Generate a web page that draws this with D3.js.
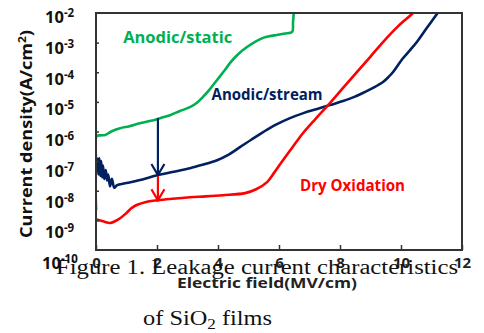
<!DOCTYPE html>
<html>
<head>
<meta charset="utf-8">
<script src="https://cdn.jsdelivr.net/npm/d3@7"></script>
<style>
  body { margin: 0; background: #fff; }
  svg { display: block; }
</style>
</head>
<body>
<svg width="484" height="333"></svg>
<script>
// exponents (log10 of A/cm2), field in MV/cm
var staticField = [0, 0.02, 0.15, 0.3, 0.5, 0.79, 1.1, 1.44, 1.8, 2.1, 2.45, 2.75, 3.08, 3.3, 3.5, 3.75, 3.97, 4.2, 4.39, 4.65, 4.95, 5.2, 5.48, 5.7, 5.93, 6.2, 6.43, 6.46, 6.5];
var staticLogJ  = [-6.86, -6.16, -6.13, -6.12, -6.0, -5.89, -5.82, -5.72, -5.64, -5.55, -5.44, -5.31, -5.18, -5.04, -4.84, -4.55, -4.26, -3.96, -3.69, -3.4, -3.15, -2.98, -2.84, -2.78, -2.74, -2.69, -2.64, -2.3, -1.8];

var streamField = [0, 0.02, 0.05, 0.08, 0.11, 0.14, 0.17, 0.2, 0.23, 0.27, 0.32, 0.36, 0.4, 0.46, 0.52, 0.6, 0.69, 1.0, 1.44, 2.03, 2.5, 3.08, 3.5, 3.97, 4.35, 4.72, 5.1, 5.48, 5.9, 6.36, 6.8, 7.25, 7.7, 8.1, 8.45, 8.75, 9.1, 9.41, 9.6, 9.74, 9.9, 10.07, 10.3, 10.52, 10.85, 11.2, 11.4];
var streamLogJ  = [-8.66, -6.95, -6.92, -7.45, -6.9, -7.5, -7.0, -7.55, -7.15, -7.6, -7.3, -7.65, -7.45, -7.85, -7.6, -7.9, -7.81, -7.74, -7.64, -7.47, -7.37, -7.24, -7.12, -6.97, -6.78, -6.53, -6.27, -6.02, -5.77, -5.55, -5.38, -5.24, -5.1, -4.97, -4.84, -4.7, -4.52, -4.33, -4.15, -3.99, -3.76, -3.52, -3.25, -2.98, -2.5, -2.0, -1.7];

var dryField = [0, 0.23, 0.46, 0.62, 0.79, 1.0, 1.21, 1.61, 2.03, 2.5, 3.08, 3.6, 4.16, 4.89, 5.25, 5.61, 5.85, 6.13, 6.45, 6.79, 7.2, 7.67, 8.1, 8.56, 9.0, 9.41, 9.9, 10.39, 10.6];
var dryLogJ  = [-8.96, -9.03, -9.09, -9.03, -8.93, -8.75, -8.55, -8.39, -8.32, -8.27, -8.22, -8.19, -8.15, -8.08, -7.95, -7.71, -7.38, -6.97, -6.52, -6.05, -5.57, -5.04, -4.53, -3.99, -3.47, -2.98, -2.45, -2.0, -1.75];

var seriesNames  = ["Anodic/static", "Anodic/stream", "Dry Oxidation"];
var seriesColors = ["#00b050", "#002060", "#ff0000"];

var xTicks = [0, 2, 4, 6, 8, 10, 12];
var yTickExps = [-2, -3, -4, -5, -6, -7, -8, -9, -10];

// arrows at 2 MV/cm: static -> stream, stream -> dry
var arrowField = 2.03;
var arrowFrom = [-5.55, -7.5];
var arrowTo   = [-7.47, -8.32];
var arrowColors = ["#002060", "#ff0000"];

var svg = d3.select("svg");
var pLeft = 96, pRight = 462, pTop = 13, pBottom = 250;
var sans = "'Open Sans', Lato, sans-serif";

var x = d3.scaleLinear().domain([0, 12]).range([pLeft, pRight]);
var y = d3.scaleLog().domain([1e-10, 1e-2]).range([pBottom, pTop]);
// tick labels sit a little lower than the ticks in the original
var yLab = d3.scaleLog().domain([1e-10, 1e-2]).range([269, 23]);

svg.append("defs").append("clipPath").attr("id", "clip")
  .append("rect").attr("x", pLeft).attr("y", pTop).attr("width", pRight - pLeft).attr("height", pBottom - pTop);

var line = d3.line()
  .x(function(d) { return x(d[0]); })
  .y(function(d) { return y(Math.pow(10, d[1])); })
  .curve(d3.curveCatmullRom.alpha(0.5));

var fields = [staticField, streamField, dryField];
var logs = [staticLogJ, streamLogJ, dryLogJ];

var plot = svg.append("g").attr("clip-path", "url(#clip)");
fields.forEach(function(f, i) {
  plot.append("path")
    .datum(d3.zip(f, logs[i]))
    .attr("fill", "none")
    .attr("stroke", seriesColors[i])
    .attr("stroke-width", 2.6)
    .attr("stroke-linejoin", "round")
    .attr("d", line);
});

// arrows
arrowFrom.forEach(function(a, i) {
  var ax = x(arrowField), y0 = y(Math.pow(10, a)), y1 = y(Math.pow(10, arrowTo[i]));
  svg.append("line")
    .attr("x1", ax).attr("x2", ax).attr("y1", y0).attr("y2", y1)
    .attr("stroke", arrowColors[i]).attr("stroke-width", 2.2);
  svg.append("path")
    .attr("d", "M" + (ax - 6.5) + "," + (y1 - 11) + "L" + ax + "," + y1 + "L" + (ax + 6.5) + "," + (y1 - 11))
    .attr("fill", "none").attr("stroke", arrowColors[i]).attr("stroke-width", 2.2);
});

// frame
svg.append("rect")
  .attr("x", pLeft).attr("y", pTop).attr("width", pRight - pLeft).attr("height", pBottom - pTop)
  .attr("fill", "none").attr("stroke", "#333").attr("stroke-width", 2);

// inner ticks
svg.append("g")
  .attr("transform", "translate(" + pLeft + ",0)")
  .call(d3.axisLeft(y).tickValues(yTickExps.slice(1, -1).map(function(e) { return Math.pow(10, e); }))
    .tickSize(-3).tickFormat(""))
  .call(function(g) { g.select(".domain").remove(); g.selectAll("line").attr("stroke", "#333").attr("stroke-width", 1.5); });

var xAxis = svg.append("g")
  .attr("transform", "translate(0," + pBottom + ")")
  .call(d3.axisBottom(x).tickValues(xTicks).tickSize(-5).tickPadding(7).tickFormat(d3.format("d")));
xAxis.select(".domain").remove();
xAxis.selectAll("line").attr("stroke", "#333").attr("stroke-width", 1.5);
xAxis.selectAll("text")
  .attr("font-family", sans)
  .attr("font-weight", "bold")
  .attr("font-size", 15)
  .attr("fill", "#222");

// y tick labels 10^n
var yl = svg.append("g")
  .attr("font-family", sans)
  .attr("font-weight", "bold")
  .attr("fill", "#111");
yTickExps.forEach(function(e) {
  var t = yl.append("text")
    .attr("x", e === -10 ? 42 : 45)
    .attr("y", yLab(Math.pow(10, e)))
    .attr("font-size", 16.5);
  t.append("tspan").text("10");
  t.append("tspan").attr("dy", -6).attr("font-size", 11.5).text(String(e));
});

// axis titles
svg.append("text")
  .attr("transform", "translate(32,134) rotate(-90)")
  .attr("text-anchor", "middle")
  .attr("font-family", sans)
  .attr("font-weight", "bold")
  .attr("font-size", 16)
  .attr("fill", "#111")
  .attr("textLength", 208).attr("lengthAdjust", "spacingAndGlyphs")
  .call(function(t) {
    t.append("tspan").text("Current density(A/cm");
    t.append("tspan").attr("dy", -6).attr("font-size", 10.5).text("2");
    t.append("tspan").attr("dy", 6).text(")");
  });

// caption (overlaps the axis, as in the original)
var cap = svg.append("g")
  .attr("font-family", "'Liberation Serif', 'Times New Roman', serif")
  .attr("font-size", 20)
  .attr("fill", "#111");
cap.append("text").attr("x", 56).attr("y", 274)
  .attr("textLength", 402).attr("lengthAdjust", "spacingAndGlyphs")
  .text("Figure 1. Leakage current characteristics");
cap.append("text").attr("x", 143).attr("y", 325)
  .attr("textLength", 129).attr("lengthAdjust", "spacingAndGlyphs")
  .call(function(t) {
    t.append("tspan").text("of SiO");
    t.append("tspan").attr("dy", 4).attr("font-size", 14).text("2");
    t.append("tspan").attr("dy", -4).text(" films");
  });

svg.append("text")
  .attr("x", 177).attr("y", 288)
  .attr("font-family", sans)
  .attr("font-weight", "bold")
  .attr("font-size", 14.5)
  .attr("fill", "#222")
  .attr("textLength", 180).attr("lengthAdjust", "spacingAndGlyphs")
  .text("Electric field(MV/cm)");

// series labels
var labelField = [0.89, 3.79, 6.69];
var labelLogJ  = [-3.0, -4.95, -8.0];
var labelWidth = [109, 111, 105];
seriesNames.forEach(function(n, i) {
  svg.append("text")
    .attr("x", x(labelField[i]))
    .attr("y", y(Math.pow(10, labelLogJ[i])))
    .attr("font-family", sans)
    .attr("font-weight", "bold")
    .attr("font-size", 16)
    .attr("fill", seriesColors[i])
    .attr("textLength", labelWidth[i]).attr("lengthAdjust", "spacingAndGlyphs")
    .text(n);
});
</script>
</body>
</html>
